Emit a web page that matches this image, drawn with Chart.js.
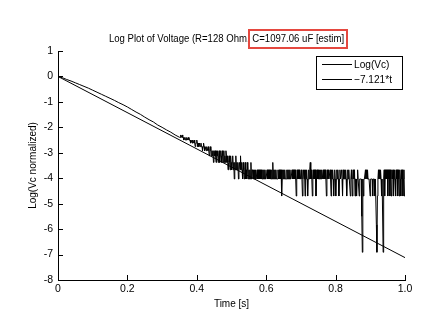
<!DOCTYPE html>
<html><head><meta charset="utf-8">
<script src="https://cdn.jsdelivr.net/npm/chart.js@4.4.0/dist/chart.umd.min.js"></script>
<style>html,body{margin:0;padding:0;background:#fff}canvas{display:block}</style>
</head><body>
<canvas id="c" width="448" height="326"></canvas>
<script>
// ---------- data ----------
const titleMain = "Log Plot of Voltage (R=128 Ohm, ";
const titleBoxed = "C=1097.06 uF [estim]";
const xLabel = "Time [s]";
const yLabel = "Log(Vc normalized)";
const seriesNames = ["Log(Vc)", "\u22127.121*t"];
const xTicks = [0, 0.2, 0.4, 0.6, 0.8, 1];
const yTicks = [1, 0, -1, -2, -3, -4, -5, -6, -7, -8];

const smoothTime = [0, 0.0125, 0.025, 0.0375, 0.05, 0.0625, 0.075, 0.0875, 0.1, 0.1125, 0.125, 0.1375, 0.15, 0.1625, 0.175, 0.1875, 0.2, 0.2125, 0.225, 0.2375, 0.25, 0.2625, 0.275, 0.2875, 0.3, 0.3125, 0.325, 0.3375, 0.35];
const smoothLogVc = [0, -0.05, -0.12, -0.18, -0.25, -0.32, -0.39, -0.46, -0.54, -0.62, -0.70, -0.78, -0.86, -0.94, -1.03, -1.11, -1.20, -1.30, -1.40, -1.49, -1.60, -1.70, -1.79, -1.91, -2.00, -2.10, -2.19, -2.30, -2.39];

// sampled (quantised) part of the measurement, one value per sample
const noisyStart = 0.352;
const noisyStep = 0.0015;
const noisyLogVc = [
  -2.40,-2.30,-2.40,-2.40,-2.30,-2.40,-2.40,-2.50,-2.40,-2.40,-2.50,-2.40,-2.50,-2.40,-2.50,-2.50,-2.40,-2.50,-2.50,
  -2.50,-2.62,-2.50,-2.50,-2.62,-2.50,-2.62,-2.62,-2.50,-2.62,-2.76,-2.62,-2.62,-2.50,-2.62,-2.76,-2.62,-2.76,-2.62,-2.62,
  -2.76,-2.62,-2.76,-2.76,-2.92,-2.76,-2.62,-2.76,-2.92,-2.76,-2.76,-2.92,-2.76,-2.92,-2.92,-2.76,-2.92,-3.12,-2.92,-2.76,
  -2.92,-3.12,-2.92,-3.12,-2.92,-3.38,-2.92,-3.12,-2.92,-3.12,-3.38,-2.92,-3.12,-2.92,-3.38,-3.12,-2.92,-3.38,-3.12,-2.92,-3.12,-3.38,-2.92,-3.12,-3.38,-2.92,-3.38,-3.12,-3.38,-2.92,
  -3.12,-3.38,-3.12,-3.67,-3.38,-3.12,-3.38,-3.67,-3.12,-3.38,-3.67,-3.38,-3.12,-3.67,-3.38,-4.03,-3.38,-3.67,-3.12,-3.67,-3.38,-3.67,-3.38,-4.03,-3.67,-3.38,-3.67,-3.12,-3.67,-3.38,
  -3.67,-4.03,-3.38,-3.67,-4.03,-3.67,-3.38,-4.03,-3.67,-4.03,-3.38,-3.67,-4.03,-3.67,-4.03,-3.67,-4.03,-3.38,-4.03,-3.67,
  -3.67,-4.03,-3.67,-4.03,-3.67,-4.03,-3.67,-4.03,-4.03,-3.67,-4.03,-3.67,-4.03,-3.67,-4.03,-3.67,-4.03,-3.67,-4.03,-4.03,
  -3.67,-4.03,-3.67,-4.03,-3.67,-4.03,-4.03,-4.03,-3.67,-4.03,-3.67,-4.03,-3.67,-4.03,-3.67,-4.03,-4.03,-3.67,-4.03,-3.38,
  -4.03,-3.67,-4.03,-3.67,-4.03,-3.67,-4.03,-4.03,-4.03,-3.67,-4.03,-3.67,-4.03,-3.67,-4.03,-3.67,-4.70,-4.03,-3.67,-4.03,
  -3.67,-4.03,-3.67,-4.03,-4.03,-4.03,-3.67,-4.03,-3.67,-4.03,-3.67,-4.03,-3.67,-4.03,-4.03,-4.03,-3.67,-4.03,-3.67,-4.03,
  -3.67,-4.03,-3.67,-4.03,-4.70,-4.03,-3.67,-4.03,-3.67,-4.03,-3.67,-4.03,-4.03,-4.03,-3.67,-4.03,-4.70,-4.03,-3.67,-4.03,
  -3.67,-4.70,-3.67,-4.03,-3.67,-4.03,-4.70,-4.03,-3.67,-4.03,-3.67,-3.38,-4.03,-3.67,-4.03,-4.70,-4.03,-3.67,-4.03,-3.67,
  -4.03,-3.67,-4.70,-4.03,-3.67,-4.03,-3.67,-4.03,-4.03,-3.67,-4.03,-3.67,-4.03,-3.67,-4.03,-4.03,-3.67,-4.03,-3.67,-4.03,
  -3.67,-4.03,-4.70,-4.03,-3.67,-4.03,-3.67,-4.03,-4.03,-3.67,-4.03,-4.70,-3.67,-4.03,-3.67,-4.03,-4.70,-4.03,-3.67,-4.03,
  -4.70,-4.03,-3.67,-4.03,-3.67,-4.03,-4.70,-4.03,-3.67,-4.03,-4.03,-3.67,-4.03,-4.70,-3.67,-4.03,-4.03,-3.67,-4.03,-3.67,
  -4.03,-4.70,-4.03,-3.67,-4.03,-3.67,-4.03,-4.03,-4.70,-4.03,-3.67,-4.03,-4.70,-4.03,-3.67,-4.03,-3.67,-4.70,-4.03,-4.03,
  -4.70,-4.03,-3.67,-4.03,-4.03,-4.70,-4.03,-4.03,-4.03,-4.03,-5.50,-6.91,-4.03,-4.70,-4.03,-4.03,-4.03,-3.67,-4.03,-3.67,
  -4.03,-3.67,-4.03,-4.03,-4.03,-4.03,-4.70,-4.03,-4.03,-4.03,-4.03,-4.70,-4.03,-4.03,-4.03,-4.70,-4.03,-4.03,-5.83,-6.91,
  -4.70,-4.03,-3.67,-4.03,-3.67,-4.03,-3.67,-4.03,-4.70,-4.03,-4.03,-6.91,-4.03,-3.67,-4.70,-3.67,-4.03,-3.67,-4.03,-3.67,
  -4.70,-3.67,-4.03,-3.67,-4.70,-3.67,-4.03,-4.70,-3.67,-4.03,-3.67,-4.70,-4.03,-3.67,-4.03,-4.70,-3.67,-4.03,-3.67,-4.70,
  -3.67,-4.03,-4.70,-3.67,-4.03,-4.70,-3.67,-4.03,-3.67,-4.70,-4.03,-3.67,-4.70,-4.70
];

const fitTime = [0, 1];
const fitValue = [0, -7.121];

// ---------- build ----------
const FONT = "'Liberation Sans', Arial, sans-serif";
const logVcPoints = smoothTime.map((t, i) => ({x: t, y: smoothLogVc[i]}))
  .concat(noisyLogVc.map((v, i) => ({x: +(noisyStart + i * noisyStep).toFixed(5), y: v})));
const fitPoints = fitTime.map((t, i) => ({x: t, y: fitValue[i]}));

function narrowText(ctx, txt, x, y, sx) {
  ctx.save(); ctx.translate(x, y); ctx.scale(sx, 1); ctx.fillText(txt, 0, 0); ctx.restore();
}

const decor = {
  id: 'decor',
  afterDraw(chart) {
    const ctx = chart.ctx, a = chart.chartArea, xs = chart.scales.x, ys = chart.scales.y;
    ctx.save();
    // inward tick marks (MATLAB style)
    ctx.strokeStyle = '#000'; ctx.lineWidth = 1;
    ctx.beginPath();
    xTicks.forEach(v => { const p = Math.round(xs.getPixelForValue(v)) + 0.5; ctx.moveTo(p, a.bottom); ctx.lineTo(p, a.bottom - 5); });
    yTicks.forEach(v => { const p = Math.round(ys.getPixelForValue(v)) + 0.5; ctx.moveTo(a.left, p); ctx.lineTo(a.left + 5, p); });
    ctx.stroke();
    // title with red highlight box
    const SX = 0.87;
    ctx.font = '11px ' + FONT;
    ctx.fillStyle = '#000'; ctx.textBaseline = 'middle'; ctx.textAlign = 'left';
    const w1 = ctx.measureText(titleMain).width * SX, w2 = ctx.measureText(titleBoxed).width * SX;
    const cx = (a.left + a.right) / 2 - 5;
    const x0 = cx - (w1 + w2) / 2;
    const ty = a.top - 12;
    narrowText(ctx, titleMain, x0, ty, SX);
    narrowText(ctx, titleBoxed, x0 + w1, ty, SX);
    ctx.strokeStyle = '#e5483f'; ctx.lineWidth = 2;
    ctx.strokeRect(Math.round(x0 + w1 - 3), ty - 9, Math.round(w2 + 6), 18);
    // legend
    const lx = a.right - 89, ly = a.top + 5, lw = 86, lh = 33;
    ctx.fillStyle = '#fff'; ctx.fillRect(lx, ly, lw, lh);
    ctx.strokeStyle = '#000'; ctx.lineWidth = 1;
    ctx.strokeRect(lx + 0.5, ly + 0.5, lw, lh);
    ctx.font = '11px ' + FONT;
    chart.data.datasets.forEach((ds, i) => {
      const yy = Math.round(ly + 8 + i * 15) + 0.5;
      ctx.strokeStyle = ds.borderColor; ctx.lineWidth = 1;
      ctx.beginPath(); ctx.moveTo(lx + 6, yy); ctx.lineTo(lx + 36, yy); ctx.stroke();
      ctx.fillStyle = '#000'; ctx.textBaseline = 'middle';
      narrowText(ctx, ds.label, lx + 38, yy, 0.92);
    });
    ctx.restore();
  }
};

new Chart(document.getElementById('c'), {
  type: 'line',
  data: {
    datasets: [
      {label: seriesNames[0], data: logVcPoints, borderColor: '#000', borderWidth: 1, pointRadius: 0, tension: 0, fill: false},
      {label: seriesNames[1], data: fitPoints, borderColor: '#000', borderWidth: 1, pointRadius: 0, tension: 0, fill: false}
    ]
  },
  options: {
    responsive: false, animation: false, devicePixelRatio: 1,
    layout: {padding: {left: 0, right: 43, top: 51, bottom: 0}},
    plugins: {legend: {display: false}, title: {display: false}, tooltip: {enabled: false}},
    scales: {
      x: {
        type: 'linear', min: 0, max: 1,
        afterFit: s => { s.height = 46; },
        grid: {display: false, drawTicks: false},
        border: {display: true, color: '#000', width: 1},
        ticks: {stepSize: 0.2, padding: 3, color: '#000', font: {family: FONT, size: 10.5}, maxRotation: 0},
        title: {display: true, text: xLabel, color: '#000', font: {family: FONT, size: 10}, padding: {top: 16, bottom: 16}}
      },
      y: {
        type: 'linear', min: -8, max: 1,
        afterFit: s => { s.width = 58; },
        grid: {display: false, drawTicks: false},
        border: {display: true, color: '#000', width: 1},
        ticks: {stepSize: 1, padding: 5, color: '#000', font: {family: FONT, size: 10.5}},
        title: {display: true, text: yLabel, color: '#000', font: {family: FONT, size: 10}, padding: {top: 27, bottom: 27}}
      }
    }
  },
  plugins: [decor]
});
</script>
</body></html>
